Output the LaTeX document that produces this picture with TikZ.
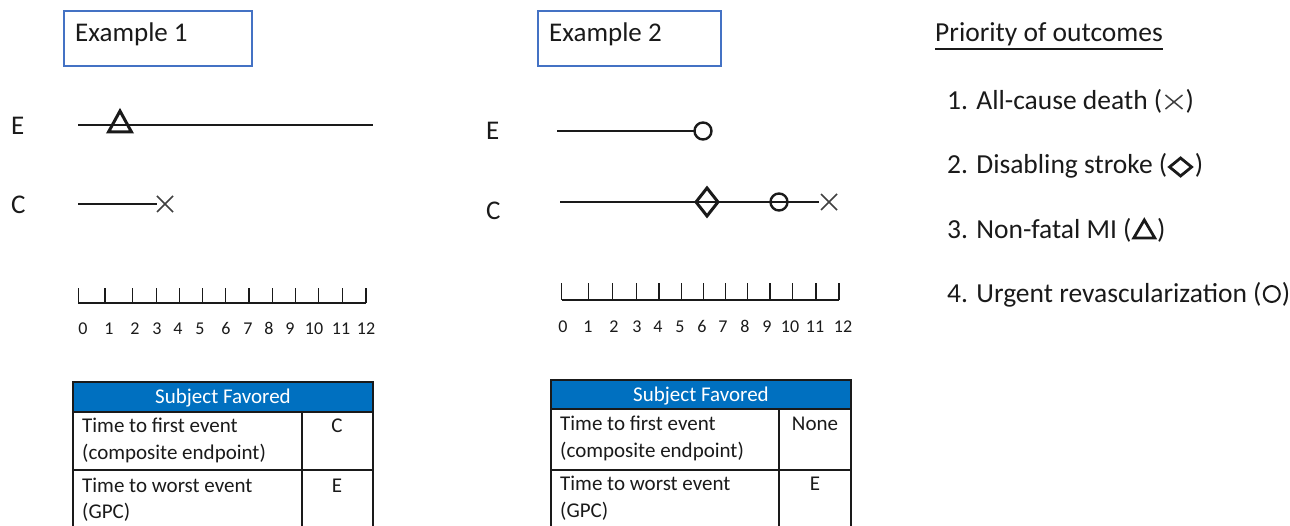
\documentclass[tikz,border=0pt]{standalone}
\usepackage{fontspec}
\setmainfont{Carlito}
\usetikzlibrary{calc}
\definecolor{boxblue}{HTML}{4472C4}
\definecolor{headblue}{HTML}{0070C0}
\definecolor{xgray}{HTML}{404040}
\definecolor{ink}{HTML}{1A1A1A}

\tikzset{
  txt/.style={inner sep=0pt, text=ink},
  titlebox/.style={draw=boxblue, line width=2.2pt, inner sep=0pt},
  titletext/.style={txt, font=\fontsize{27}{30}\selectfont, anchor=base west},
  armlabel/.style={txt, font=\fontsize{27}{30}\selectfont, anchor=base west},
  timeline/.style={line width=1.8pt, ink},
  ruler/.style={line width=1.2pt, ink},
  ticklabel/.style={txt, font=\fontsize{18}{21}\selectfont, anchor=base},
  tabline/.style={line width=1.3pt, ink},
  header/.style={fill=headblue},
  headtext/.style={inner sep=0pt, text=white, font=\fontsize{21}{24}\selectfont, anchor=base},
  celltext/.style={txt, font=\fontsize{21}{24}\selectfont, anchor=base west},
  cellmark/.style={txt, font=\fontsize{21}{24}\selectfont, anchor=base},
  itemtext/.style={txt, font=\fontsize{27.5}{30}\selectfont, anchor=base west},
  xmark/.pic={\draw[xgray, line width=1.6pt] (-8,-8) -- (8,8) (-8,8) -- (8,-8);},
  ring/.pic={\draw[ink, line width=2.4pt] (0,0) circle[radius=8.5];},
  tri/.pic={\draw[ink, line width=3pt, line join=miter] (-11.5,7) -- (0,-14) -- (11.5,7) -- cycle;},
  rhomb/.pic={\draw[ink, line width=3pt, line join=miter] (-11,0) -- (0,-14) -- (11,0) -- (0,14) -- cycle;},
}

\begin{document}
\begin{tikzpicture}[x=1pt, y=-1pt]
\useasboundingbox (0,0) rectangle (1290,526);

% ---------- Example 1 ----------
\node (box1) [titlebox, anchor=north west, minimum width=188pt, minimum height=55pt] at (63,10) {};
\node (title1) [titletext] at (75,42) {Example 1};

\node (e1) [armlabel] at (11,135) {E};
\node (c1) [armlabel] at (11,214) {C};

\coordinate (e1s) at (78,125);
\coordinate (e1e) at (373,125);
\draw[timeline] (e1s) -- (e1e);
\pic at (120,125) {tri};

\coordinate (c1s) at (78,204);
\coordinate (c1x) at (157,204);
\draw[timeline] (c1s) -- (c1x);
\pic at (165,204) {xmark};

% ruler, months 0-12
\draw[ruler] (78,303) -- (366,303);
\foreach \t/\p in {0/78.3,1/105,2/132.7,3/156.7,4/179.3,5/202.7,6/225.7,7/249,8/272.3,9/295.7,10/318.3,11/342.7,12/366}
  \draw[ruler] (\p,303) -- (\p,288);
\foreach \t/\p in {0/83,1/109,2/135,3/157,4/178,5/200,6/226,7/248,8/269,9/290,10/314,11/341,12/366}
  \node[ticklabel] at (\p,335) {\t};

% summary table
\fill[header] (73,382) rectangle (373,412);
\node (h1) [headtext] at (223,403) {Subject Favored};
\draw[tabline] (73,526) -- (73,382) -- (373,382) -- (373,526);
\draw[tabline] (73,412) -- (373,412);
\draw[tabline] (73,470) -- (373,470);
\draw[tabline] (302,412) -- (302,526);
\node (r11) [celltext] at (82,432) {Time to first event};
\node (r12) [celltext] at (82,459) {(composite endpoint)};
\node (r21) [celltext] at (82,492) {Time to worst event};
\node (r22) [celltext] at (82,518) {(GPC)};
\node (v11) [cellmark] at (337,432) {C};
\node (v21) [cellmark] at (337,492) {E};

% ---------- Example 2 ----------
\node (box2) [titlebox, anchor=north west, minimum width=183pt, minimum height=55pt] at (537,10) {};
\node (title2) [titletext] at (549,42) {Example 2};

\node (e2) [armlabel] at (486,140) {E};
\node (c2) [armlabel] at (486,220) {C};

\coordinate (e2s) at (557,131);
\coordinate (e2e) at (694,131);
\draw[timeline] (e2s) -- (e2e);
\pic at (703,131) {ring};

\coordinate (c2s) at (560,202);
\coordinate (c2e) at (819,202);
\draw[timeline] (c2s) -- (c2e);
\pic at (707,202) {rhomb};
\pic at (779,202) {ring};
\pic at (829,202) {xmark};

\draw[ruler] (561.7,300) -- (839,300);
\foreach \t/\p in {0/561.7,1/588.3,2/612.7,3/636.7,4/659,5/681.7,6/703.3,7/725.7,8/747.7,9/770,10/792.3,11/816,12/839}
  \draw[ruler] (\p,300) -- (\p,283);
\foreach \t/\p in {0/563,1/588,2/614,3/637,4/658,5/680,6/702,7/723,8/745,9/767,10/790,11/815,12/843}
  \node[ticklabel] at (\p,333) {\t};

\fill[header] (551,380) rectangle (851,409);
\node (h2) [headtext] at (701,401) {Subject Favored};
\draw[tabline] (551,526) -- (551,380) -- (851,380) -- (851,526);
\draw[tabline] (551,409) -- (851,409);
\draw[tabline] (551,470) -- (851,470);
\draw[tabline] (779,409) -- (779,526);
\node (s11) [celltext] at (560,430) {Time to first event};
\node (s12) [celltext] at (560,457) {(composite endpoint)};
\node (s21) [celltext] at (560,490) {Time to worst event};
\node (s22) [celltext] at (560,517) {(GPC)};
\node (w11) [cellmark] at (815,430) {None};
\node (w21) [cellmark] at (815,490) {E};

% ---------- Priority list ----------
\node (prio) [itemtext] at (935,42) {Priority of outcomes};
\draw[line width=1.3pt, ink] ($(prio.base west)+(0,7)$) -- ($(prio.base east)+(0,7)$);

\node (o1) [itemtext] at (947,110) {1. All-cause death (};
\draw[xgray, line width=1.5pt] ($(o1.base east)+(3,-15)$) -- ($(o1.base east)+(20,-1)$)
                               ($(o1.base east)+(3,-1)$) -- ($(o1.base east)+(20,-15)$);
\node (o1c) [itemtext] at ($(o1.base east)+(23,0)$) {)};

\node (o2) [itemtext] at (947,174) {2. Disabling stroke (};
\draw[ink, line width=2.8pt, line join=miter] ($(o2.base east)+(2,-7)$) -- ($(o2.base east)+(13,-16)$)
      -- ($(o2.base east)+(24,-7)$) -- ($(o2.base east)+(13,2)$) -- cycle;
\node (o2c) [itemtext] at ($(o2.base east)+(27,0)$) {)};

\node (o3) [itemtext] at (947,239) {3. Non-fatal MI (};
\draw[ink, line width=2.8pt, line join=miter] ($(o3.base east)+(2,-1)$) -- ($(o3.base east)+(12.5,-19)$)
      -- ($(o3.base east)+(23,-1)$) -- cycle;
\node (o3c) [itemtext] at ($(o3.base east)+(25,0)$) {)};

\node (o4) [itemtext] at (947,303) {4. Urgent revascularization (};
\draw[ink, line width=2pt] ($(o4.base east)+(10,-9)$) circle[radius=8];
\node (o4c) [itemtext] at ($(o4.base east)+(20,0)$) {)};
\end{tikzpicture}
\end{document}
